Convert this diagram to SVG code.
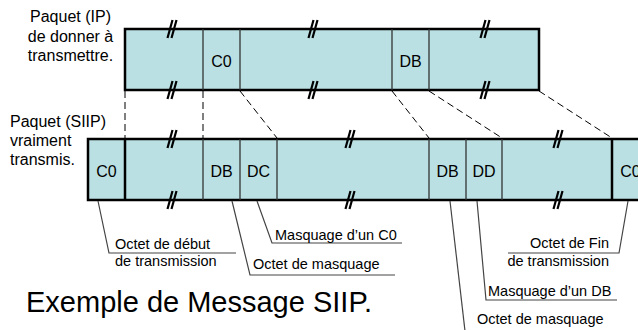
<svg xmlns="http://www.w3.org/2000/svg" width="638" height="330" viewBox="0 0 638 330">
<style>
text{font-family:"Liberation Sans",Arial,sans-serif;fill:#000}
.lbl{font-size:16px}
.cell{font-size:16px;text-anchor:middle}
.cap{font-size:14.5px}
.title{font-size:29px}
.box{fill:#bbe0e3;stroke:#000;stroke-width:2.5}
.div{stroke:#333;stroke-width:1.3}
.thick{stroke:#000;stroke-width:2.5}
.brk{stroke:#000;stroke-width:2.2;stroke-linecap:butt}
.dash{fill:none;stroke:#000;stroke-width:1;stroke-dasharray:7 4}
.lead{fill:none;stroke:#444;stroke-width:1.2}
</style>
<defs>
<g id="brk">
<line class="brk" x1="-5" y1="9" x2="0" y2="-9"/>
<line class="brk" x1="-1" y1="9" x2="4" y2="-9"/>
</g>
</defs>

<g id="label-ip">
<text class="lbl" x="70.5" y="22" text-anchor="middle">Paquet (IP)</text>
<text class="lbl" x="70.5" y="41.5" text-anchor="middle">de donner à</text>
<text class="lbl" x="70.5" y="61" text-anchor="middle">transmettre.</text>
</g>
<g id="label-siip">
<text class="lbl" x="10" y="127">Paquet (SIIP)</text>
<text class="lbl" x="10" y="146">vraiment</text>
<text class="lbl" x="10" y="165">transmis.</text>
</g>

<g id="packet-ip">
<rect class="box" x="125" y="29" width="414" height="61"/>
<line class="div" x1="203" y1="29" x2="203" y2="90"/>
<line class="div" x1="240" y1="29" x2="240" y2="90"/>
<line class="div" x1="392" y1="29" x2="392" y2="90"/>
<line class="div" x1="429" y1="29" x2="429" y2="90"/>
<text class="cell" x="221.5" y="66.5">C0</text>
<text class="cell" x="410.5" y="66.5">DB</text>
<use href="#brk" x="172.5" y="29"/>
<use href="#brk" x="172.5" y="90"/>
<use href="#brk" x="313.5" y="29"/>
<use href="#brk" x="313.5" y="90"/>
<use href="#brk" x="485.5" y="29"/>
<use href="#brk" x="485.5" y="90"/>
</g>

<g id="packet-siip">
<rect class="box" x="88" y="139" width="580" height="61"/>
<line class="thick" x1="125" y1="139" x2="125" y2="200"/>
<line class="div" x1="203" y1="139" x2="203" y2="200"/>
<line class="div" x1="240" y1="139" x2="240" y2="200"/>
<line class="div" x1="277" y1="139" x2="277" y2="200"/>
<line class="div" x1="429" y1="139" x2="429" y2="200"/>
<line class="div" x1="466" y1="139" x2="466" y2="200"/>
<line class="div" x1="502" y1="139" x2="502" y2="200"/>
<line class="thick" x1="612" y1="139" x2="612" y2="200"/>
<text class="cell" x="106.5" y="176.5">C0</text>
<text class="cell" x="221.5" y="176.5">DB</text>
<text class="cell" x="258.5" y="176.5">DC</text>
<text class="cell" x="447.5" y="176.5">DB</text>
<text class="cell" x="484" y="176.5">DD</text>
<text class="cell" x="630.5" y="176.5">C0</text>
<use href="#brk" x="172.5" y="139"/>
<use href="#brk" x="172.5" y="200"/>
<use href="#brk" x="350.5" y="139"/>
<use href="#brk" x="350.5" y="200"/>
<use href="#brk" x="558.5" y="139"/>
<use href="#brk" x="558.5" y="200"/>
</g>

<g id="connectors">
<line class="dash" x1="125" y1="91" x2="125" y2="138"/>
<line class="dash" x1="203" y1="91" x2="203" y2="138"/>
<line class="dash" x1="240" y1="91" x2="277" y2="138"/>
<line class="dash" x1="392" y1="91" x2="429" y2="138"/>
<line class="dash" x1="429" y1="91" x2="502" y2="138"/>
<line class="dash" x1="539" y1="91" x2="612" y2="138"/>
<polyline class="lead" points="98,201 109,253 236,253"/>
<polyline class="lead" points="257,201 272,243 402,243"/>
<polyline class="lead" points="232,201 250,275 395,275"/>
<polyline class="lead" points="628,201 619,253 508,253"/>
<polyline class="lead" points="477,201 486,300 617,300"/>
<polyline class="lead" points="450,201 465,331"/>
</g>

<g id="callouts">
<text class="cap" x="115" y="249">Octet de début</text>
<text class="cap" x="115" y="266">de transmission</text>
<text class="cap" x="275" y="239.5">Masquage d’un C0</text>
<text class="cap" x="253" y="269">Octet de masquage</text>
<text class="cap" x="609" y="248" text-anchor="end">Octet de Fin</text>
<text class="cap" x="609" y="266" text-anchor="end">de transmission</text>
<text class="cap" x="488" y="296">Masquage d’un DB</text>
<text class="cap" x="477" y="323.5">Octet de masquage</text>
</g>

<g id="title">
<text class="title" x="26" y="312">Exemple de Message SIIP.</text>
</g>
</svg>
